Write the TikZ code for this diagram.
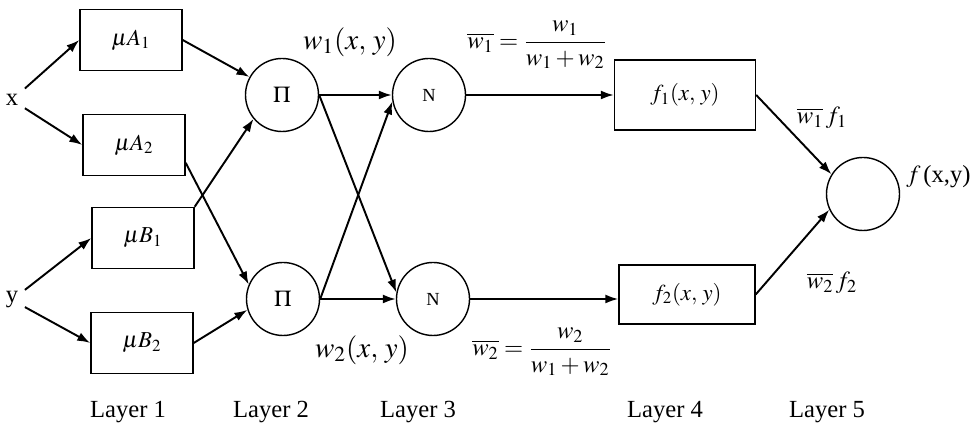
\documentclass[tikz,border=0pt,11pt]{standalone}
\usepackage{mathptmx}
\usepackage{fontspec}
\setmainfont{Liberation Serif}
\usetikzlibrary{arrows.meta}

\begin{document}
\begin{tikzpicture}[font=\fontsize{14}{17}\selectfont,
  box/.style={draw,line width=0.8pt,minimum width=2.04cm,minimum height=1.22cm,font=\fontsize{13}{16}\selectfont},
  unit/.style={draw,circle,line width=0.8pt,minimum size=1.46cm,inner sep=0pt,font=\fontsize{13}{16}\selectfont},
  link/.style={line width=1.1pt,-{Latex[length=2.6mm,width=1.8mm]}},
  big/.style={font=\fontsize{16.5}{19}\selectfont}]
\useasboundingbox (0,0) rectangle (19.48,8.52);
\path(0.24,6.52) node(xin){x} (0.24,2.52) node(yin){y}
 (2.62,7.72) node[box](muA1){$\mu A_1$} (2.68,5.62) node[box](muA2){$\mu A_2$}
 (2.86,3.76) node[box](muB1){$\mu B_1$} (2.84,1.66) node[box](muB2){$\mu B_2$}
 (5.64,6.62) node[unit](pi1){$\Pi$} (5.66,2.54) node[unit](pi2){$\Pi$}
 (8.58,6.62) node[unit](norm1){\fontsize{10.5}{12}\selectfont N} (8.66,2.54) node[unit](norm2){\fontsize{10.5}{12}\selectfont N}
 (13.70,6.62) node[box,minimum width=2.82cm,minimum height=1.40cm](f1){$f_1(x,\,y)$}
 (13.74,2.63) node[box,minimum width=2.72cm,minimum height=1.18cm](f2){$f_2(x,\,y)$}
 (17.26,4.64) node[unit](out){};

% labels
\path(7.00,7.68) node[big](w1){$w_1(x,\,y)$} (7.24,1.52) node[big](w2){$w_2(x,\,y)$}
 (10.74,7.62) node(wbar1){$\displaystyle\overline{w_1}=\frac{w_1}{w_1+w_2}$}
 (10.84,1.48) node(wbar2){$\displaystyle\overline{w_2}=\frac{w_2}{w_1+w_2}$}
 (16.44,6.16) node(wf1){$\overline{w_1}\,f_1$} (16.64,2.86) node(wf2){$\overline{w_2}\,f_2$}
 (18.77,4.98) node(fout){$f\,$(x,y)};
\path(2.56,0.28) node(L1){Layer 1} (5.42,0.28) node(L2){Layer 2} (8.36,0.28) node(L3){Layer 3}
 (13.30,0.28) node(L4){Layer 4} (16.54,0.28) node(L5){Layer 5};

\draw[link] (xin) -- (muA1.west);
\draw[link] (xin) -- (muA2.west);
\draw[link] (yin) -- (muB1.west);
\draw[link] (yin) -- (muB2.west);
\draw[link] (muA1.east) -- (pi1);
\draw[link] (muB1.north east) -- (pi1.220);
\draw[link] (muA2.-19) -- (pi2.157);
\draw[link] (muB2.east) -- (pi2.197);
\draw[link] (pi1) -- (norm1);
\draw[link] (pi1.east) -- (norm2.170);
\draw[link] (pi2.east) -- (norm1.190);
\draw[link] (pi2) -- (norm2);
\draw[link] (norm1) -- (norm1 -| f1.west);
\draw[link] (norm2) -- (norm2 -| f2.west);
\draw[link] (f1.east) -- (out.148);
\draw[link] (f2.east) -- (out.205);
\end{tikzpicture}
\end{document}
